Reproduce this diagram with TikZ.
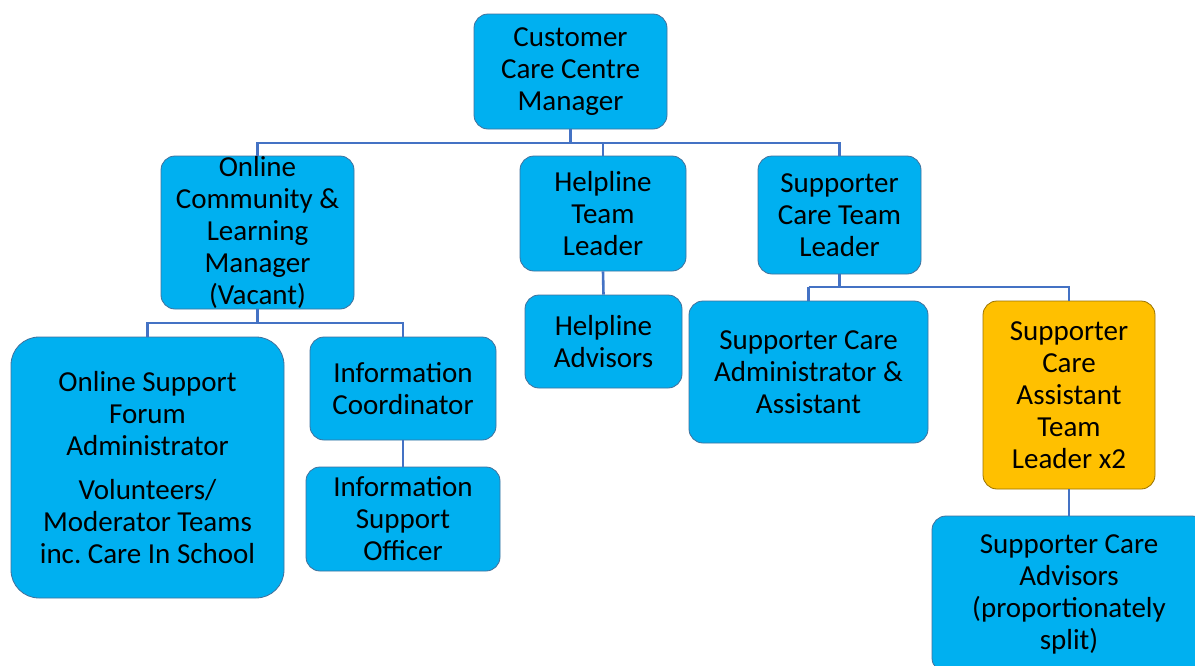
\documentclass[tikz,border=0pt]{standalone}
\usepackage{fontspec}
\setmainfont{Carlito}
\definecolor{boxblue}{HTML}{00B0F0}
\definecolor{boxorange}{HTML}{FFC000}
\definecolor{boxedge}{HTML}{41719C}
\definecolor{linkblue}{HTML}{4472C4}
\tikzset{
  role/.style={rectangle, rounded corners=14pt, fill=boxblue, draw=boxedge, line width=0.8pt,
    align=center, inner sep=0pt, font=\fontsize{29}{32}\selectfont, text=black},
  lead/.style={role, fill=boxorange, draw=boxorange!60!black},
  link/.style={draw=linkblue, line width=2.6pt}
}
\begin{document}
\begin{tikzpicture}[x=1pt,y=-1pt]
\useasboundingbox (0,0) rectangle (1195,665);
\clip (0,0) rectangle (1195,665);
\fill[white] (0,0) rectangle (1195,665);
% nodes (centre, size)
\node[role, minimum width=193pt, minimum height=115pt] (ccm) at (570.5,71.5) {Customer\\Care Centre\\Manager};
\node[role, minimum width=193pt, minimum height=153pt] (ocl) at (257.5,232.5) {Online\\Community \&\\Learning\\Manager\\(Vacant)};
\node[role, minimum width=166pt, minimum height=115pt] (htl) at (603,213.5) {Helpline\\Team\\Leader};
\node[role, minimum width=163pt, minimum height=118pt] (sctl) at (839.5,215) {Supporter\\Care Team\\Leader};
\node[role, rounded corners=28pt, minimum width=273pt, minimum height=261pt] (osf) at (147.5,467.5) {Online Support\\Forum\\Administrator\\[12pt]Volunteers/\\Moderator Teams\\inc.\ Care In School};
\node[role, minimum width=186pt, minimum height=103pt] (ic) at (403,388.5) {Information\\Coordinator};
\node[role, minimum width=194pt, minimum height=104pt] (iso) at (403,519) {Information\\Support\\Officer};
\node[role, minimum width=157pt, minimum height=93pt] (ha) at (603.5,341.5) {Helpline\\Advisors};
\node[role, minimum width=239pt, minimum height=142pt] (sca) at (808.5,372) {Supporter Care\\Administrator \&\\Assistant};
\node[lead, minimum width=172pt, minimum height=188pt] (scat) at (1069,395) {Supporter\\Care\\Assistant\\Team\\Leader x2};
\node[role, minimum width=274pt, minimum height=156pt] (scadv) at (1069,594) {Supporter Care\\Advisors\\(proportionately\\split)};
% connectors
\coordinate (j1) at (570.5,143);
\coordinate (j2) at (257.5,323);
\coordinate (j3) at (839.5,287);
\draw[link] (ccm.south) -- (j1);
\draw[link] (ocl.north) |- (j1) -| (sctl.north);
\draw[link] (j1 -| htl.north) -- (htl.north);
\draw[link] (ocl.south) -- (j2);
\draw[link] (osf.north) |- (j2) -| (ic.north);
\draw[link] (ic.south) -- (iso.north);
\draw[link] (htl.south) -- (ha.north);
\draw[link] (sctl.south) -- (j3);
\draw[link] (j3 -| sca.north) -- (j3) -| (scat.north);
\draw[link] (j3 -| sca.north) -- (sca.north);
\draw[link] (scat.south) -- (scadv.north);
\end{tikzpicture}
\end{document}
